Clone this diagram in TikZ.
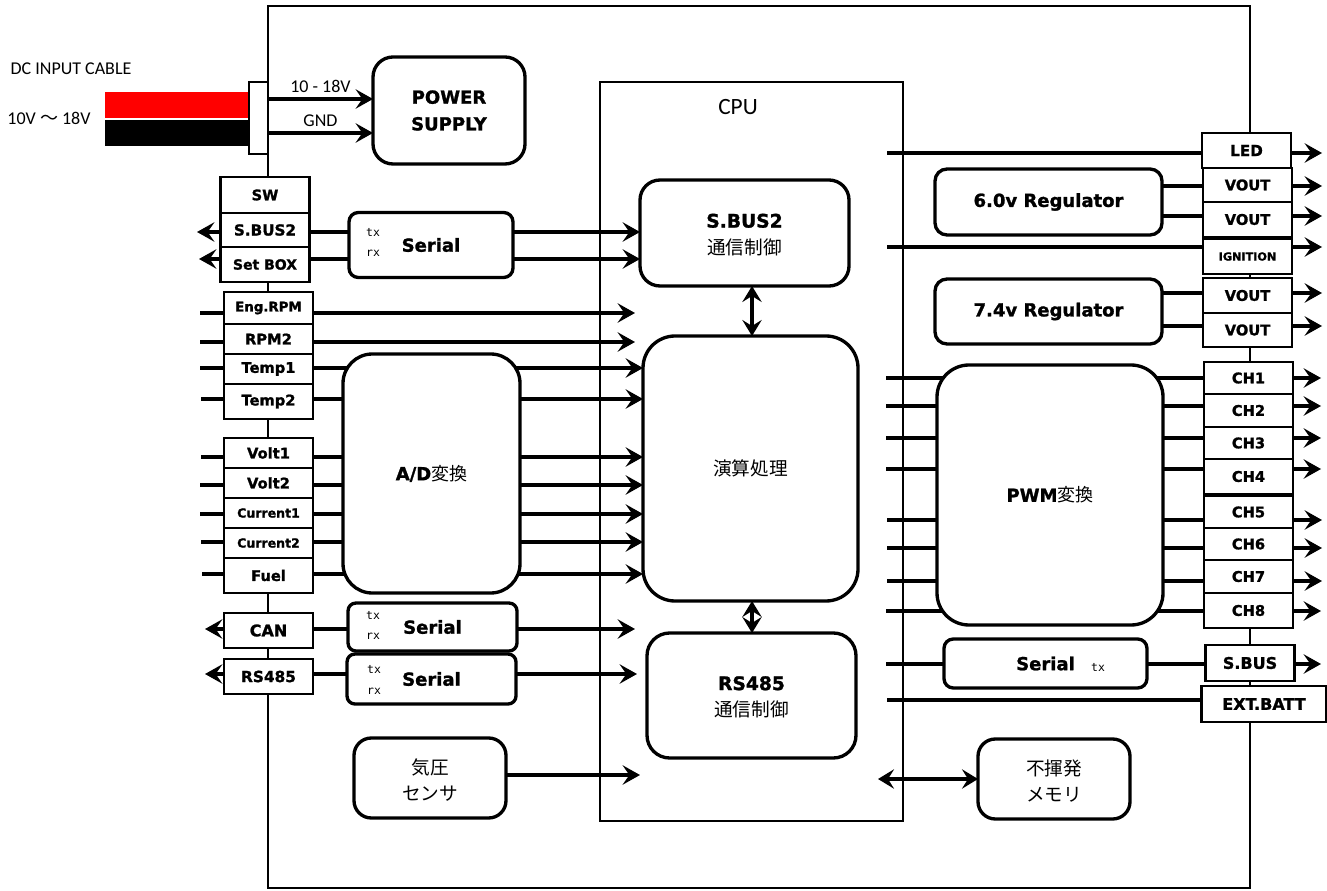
\documentclass[tikz,border=0pt]{standalone}
\usepackage{fontspec}
\setmainfont{Carlito}
\newfontfamily\headfont{DejaVu Sans}[BoldFeatures={FakeBold=1.3}]
\newfontfamily\cjkfont{Noto Sans CJK JP}
\newfontfamily\sigfont{DejaVu Sans Mono}
\usetikzlibrary{arrows.meta,positioning}

\begin{document}
\begin{tikzpicture}[x=0.75pt,y=-0.75pt,font=\fontsize{13.5}{16}\selectfont,
  frame/.style={draw,line width=1.5pt,fill=white,outer sep=0pt,inner sep=0pt},
  portbox/.style={draw,line width=1.7pt,fill=white,outer sep=0pt,inner sep=0pt,
              minimum width=66.75pt,minimum height=#1*0.75pt,portfont=11},
  portfont/.style={font=\headfont\bfseries\fontsize{#1}{12}\selectfont},
  block/.style={draw,line width=2.5pt,fill=white,align=center,outer sep=0pt,inner sep=0pt,
              font=\headfont\bfseries\fontsize{13.5}{20}\selectfont},
  size/.style 2 args={minimum width=#1*0.75pt,minimum height=#2*0.75pt},
  siglabel/.style={font=\sigfont\fontsize{8.6}{9}\selectfont,inner sep=0pt},
  cjk/.style={font=\cjkfont\fontsize{14}{19.5}\selectfont},
  wire/.style={line width=2.5pt},
  arr/.style={wire,-{Stealth[length=13pt,width=14.5pt,inset=5pt]}},
  biarr/.style={wire,{Stealth[length=12pt,width=14.5pt,inset=4.5pt]}-{Stealth[length=12pt,width=14.5pt,inset=4.5pt]}}]
\useasboundingbox (0,0) rectangle (1327,891);
\node[frame,size={982}{881}] (board) at (759,447) {};
\node[frame,size={303}{739}] (cpu) at (751.5,451.5) {};
\node[font=\fontsize{17.5}{20}\selectfont] (cpulabel) at (738,107) {CPU};
\node (cablelabel) at (71,69) {DC INPUT CABLE};
\node (rangelabel) at (49,118) {10V {\cjkfont 〜} 18V};
\node[fill=red,inner sep=0pt,size={144}{26}] (redwire) at (177,105) {};
\node[fill=black,inner sep=0pt,size={144}{26}] (blackwire) at (177,133) {};
\node[frame,size={19}{72}] (plug) at (258.5,118) {};
\node[portbox=36] (sw) at (265,195) {SW};
\node[portbox=34,below=0pt of sw,portfont=11.4] (sbustwo) {S.BUS2};
\node[portbox=35,below=0pt of sbustwo,portfont=10.5] (setbox) {Set BOX};
\node[portbox=32,portfont=10] (engrpm) at (268.5,308) {Eng.RPM};
\node[portbox=30,below=0pt of engrpm] (rpmtwo) {RPM2};
\node[portbox=30,below=0pt of rpmtwo] (tempa) {Temp1};
\node[portbox=35,below=0pt of tempa] (tempb) {Temp2};
\node[portbox=30] (volta) at (268.5,453) {Volt1};
\node[portbox=30,below=0pt of volta] (voltb) {Volt2};
\node[portbox=30,below=0pt of voltb,portfont=9.4] (curra) {Current1};
\node[portbox=30,below=0pt of curra,portfont=9.4] (currb) {Current2};
\node[portbox=35,below=0pt of currb] (fuel) {Fuel};
\node[portbox=35,portfont=12] (can) at (268.5,630.5) {CAN};
\node[portbox=35,portfont=11.5] (rsport) at (268.5,676.5) {RS485};
\node[portbox=35,portfont=11.4] (led) at (1246.5,150.5) {LED};
\node[portbox=34] (vouta) at (1247.5,185) {VOUT};
\node[portbox=35,below=0pt of vouta] (voutb) {VOUT};
\node[portbox=35,portfont=8.4] (ignition) at (1247.5,256.5) {IGNITION};
\node[portbox=35] (voutc) at (1247.5,295.5) {VOUT};
\node[portbox=34,below=0pt of voutc] (voutd) {VOUT};
\node[portbox=32] (cha) at (1248.5,378) {CH1};
\node[portbox=33,below=0pt of cha] (chb) {CH2};
\node[portbox=32,below=0pt of chb] (chc) {CH3};
\node[portbox=35,below=0pt of chc] (chd) {CH4};
\node[portbox=32] (che) at (1248.5,512) {CH5};
\node[portbox=32,below=0pt of che] (chf) {CH6};
\node[portbox=33,below=0pt of chf] (chg) {CH7};
\node[portbox=35,below=0pt of chg] (chh) {CH8};
\node[portbox=36,portfont=12] (sbusport) at (1250,663) {S.BUS};
\node[portbox=36,minimum width=93.75pt,portfont=12] (extbatt) at (1264,704) {EXT.BATT};
\node[block,size={209}{106},rounded corners=15pt,text height=33pt] (sbusctl) at (744.5,233) {{\fontsize{14}{20}\selectfont S.BUS2}\\{\cjkfont\mdseries\fontsize{14}{20}\selectfont 通信制御}};
\node[block,size={215}{265},rounded corners=24pt,cjk] (calc) at (750.5,468.5) {演算処理};
\node[block,size={209}{125},rounded corners=17pt,text height=33pt] (rsctl) at (751.5,695.5) {{\fontsize{14}{20}\selectfont RS485}\\{\cjkfont\mdseries\fontsize{14}{20}\selectfont 通信制御}};
\coordinate (inengrpm) at (200,313); \coordinate (inrpmtwo) at (200,342);
\coordinate (intempa) at (200,368); \coordinate (intempb) at (201,399);
\coordinate (involta) at (201,457); \coordinate (involtb) at (200,485);
\coordinate (incurra) at (200,514); \coordinate (incurrb) at (201,542);
\coordinate (infuel) at (202,574);
\coordinate (endengrpm) at (635,313); \coordinate (endrpmtwo) at (635,342);
\coordinate (outsbustwo) at (197,232); \coordinate (outsetbox) at (199,259);
\coordinate (outcan) at (205,629); \coordinate (outrsport) at (205,674);
\coordinate (endcan) at (635,629); \coordinate (endrs) at (637,674);
\coordinate (endbaro) at (640,775); \coordinate (startmem) at (878,779);
\coordinate (inled) at (887,153); \coordinate (inign) at (887,247);
\coordinate (inext) at (887,700); \coordinate (inserial) at (886,664);
\coordinate (outled) at (1322,153); \coordinate (outvouta) at (1322,186);
\coordinate (outvoutb) at (1322,216); \coordinate (outign) at (1322,247);
\coordinate (outvoutc) at (1322,293); \coordinate (outvoutd) at (1322,326);
\coordinate (incha) at (886,378); \coordinate (inchb) at (886,406);
\coordinate (inchc) at (886,438); \coordinate (inchd) at (886,469);
\coordinate (inche) at (887,520); \coordinate (inchf) at (887,548);
\coordinate (inchg) at (887,581); \coordinate (inchh) at (886,611);
\coordinate (outcha) at (1321,378); \coordinate (outchb) at (1321,406);
\coordinate (outchc) at (1321,438); \coordinate (outchd) at (1321,469);
\coordinate (outche) at (1322,520); \coordinate (outchf) at (1322,548);
\coordinate (outchg) at (1322,581); \coordinate (outchh) at (1321,611);
\coordinate (outsbus) at (1321,664);
\draw[wire] (inengrpm)--(engrpm.west |- inengrpm); \draw[wire] (inrpmtwo)--(rpmtwo.west |- inrpmtwo);
\draw[wire] (intempa)--(tempa.west |- intempa); \draw[wire] (intempb)--(tempb.west |- intempb);
\draw[wire] (involta)--(volta.west |- involta); \draw[wire] (involtb)--(voltb.west |- involtb);
\draw[wire] (incurra)--(curra.west |- incurra); \draw[wire] (incurrb)--(currb.west |- incurrb);
\draw[wire] (infuel)--(fuel.west |- infuel);
\draw[arr] (engrpm.east |- inengrpm)--(endengrpm); \draw[arr] (rpmtwo.east |- inrpmtwo)--(endrpmtwo);
\draw[arr] (tempa.east |- intempa)--(calc.west |- intempa); \draw[arr] (tempb.east |- intempb)--(calc.west |- intempb);
\draw[arr] (volta.east |- involta)--(calc.west |- involta); \draw[arr] (voltb.east |- involtb)--(calc.west |- involtb);
\draw[arr] (curra.east |- incurra)--(calc.west |- incurra); \draw[arr] (currb.east |- incurrb)--(calc.west |- incurrb);
\draw[arr] (fuel.east |- infuel)--(calc.west |- infuel);
\draw[arr] (sbustwo.west |- outsbustwo)--(outsbustwo); \draw[arr] (setbox.west |- outsetbox)--(outsetbox);
\draw[arr] (sbustwo.east |- outsbustwo)--(sbusctl.west |- outsbustwo); \draw[arr] (setbox.east |- outsetbox)--(sbusctl.west |- outsetbox);
\draw[arr] (can.west |- outcan)--(outcan); \draw[arr] (rsport.west |- outrsport)--(outrsport);
\draw[arr] (can.east |- endcan)--(endcan); \draw[arr] (rsport.east |- endrs)--(endrs);
\draw[biarr] (sbusctl.south -| 752,0)--(calc.north -| 752,0);
\draw[biarr] (calc.south -| 752,0)--(rsctl.north -| 752,0);
\draw[wire] (inled)--(led.west |- inled); \draw[arr] (led.east |- outled)--(outled);
\draw[wire] (inign)--(ignition.west |- inign); \draw[arr] (ignition.east |- outign)--(outign);
\draw[wire] (inext)--(extbatt.west |- inext);
\draw[wire] (vouta.west |- outvouta)--(1100,186); \draw[arr] (vouta.east |- outvouta)--(outvouta);
\draw[wire] (voutb.west |- outvoutb)--(1100,216); \draw[arr] (voutb.east |- outvoutb)--(outvoutb);
\draw[wire] (voutc.west |- outvoutc)--(1100,293); \draw[arr] (voutc.east |- outvoutc)--(outvoutc);
\draw[wire] (voutd.west |- outvoutd)--(1100,326); \draw[arr] (voutd.east |- outvoutd)--(outvoutd);
\draw[wire] (incha)--(cha.west |- incha); \draw[arr] (cha.east |- outcha)--(outcha);
\draw[wire] (inchb)--(chb.west |- inchb); \draw[arr] (chb.east |- outchb)--(outchb);
\draw[wire] (inchc)--(chc.west |- inchc); \draw[arr] (chc.east |- outchc)--(outchc);
\draw[wire] (inchd)--(chd.west |- inchd); \draw[arr] (chd.east |- outchd)--(outchd);
\draw[wire] (inche)--(che.west |- inche); \draw[arr] (che.east |- outche)--(outche);
\draw[wire] (inchf)--(chf.west |- inchf); \draw[arr] (chf.east |- outchf)--(outchf);
\draw[wire] (inchg)--(chg.west |- inchg); \draw[arr] (chg.east |- outchg)--(outchg);
\draw[wire] (inchh)--(chh.west |- inchh); \draw[arr] (chh.east |- outchh)--(outchh);
\draw[wire] (inserial)--(sbusport.west |- inserial); \draw[arr] (sbusport.east |- outsbus)--(outsbus);
\node[block,size={152}{107},rounded corners=15pt] (supply) at (449,110.5) {POWER\\SUPPLY};
\node[block,size={164}{65},rounded corners=7pt] (serialsbus) at (431,245) {Serial};
\node[block,size={177}{239},rounded corners=22pt] (adconv) at (431.5,473.5) {A/D{\cjkfont\mdseries 変換}};
\node[block,size={169}{48},rounded corners=6pt] (serialcan) at (432.5,627) {Serial};
\node[block,size={169}{50},rounded corners=6pt] (serialrs) at (431.5,679) {Serial};
\node[block,size={152}{80},rounded corners=13pt,cjk,text height=35pt] (baro) at (430,778) {気圧\\センサ};
\node[block,size={152}{80},rounded corners=13pt,cjk,text height=35pt] (memory) at (1054,779) {不揮発\\メモリ};
\node[block,size={227}{66},rounded corners=9pt] (regsix) at (1048.5,202) {6.0v Regulator};
\node[block,size={227}{65},rounded corners=9pt] (regseven) at (1048.5,311.5) {7.4v Regulator};
\node[block,size={226}{260},rounded corners=24pt] (pwmconv) at (1050,495) {PWM{\cjkfont\mdseries 変換}};
\node[block,size={203}{49},rounded corners=7pt] (serialpwm) at (1045.5,663.5) {Serial};
\draw[arr] (plug.east |- 0,99)--(supply.west |- 0,99) node[midway,above=0pt] (volts) {10 - 18V};
\draw[arr] (plug.east |- 0,133)--(supply.west |- 0,133) node[midway,above=0pt] (gnd) {GND};
\draw[arr] (baro.east |- endbaro)--(endbaro);
\draw[biarr] (startmem)--(memory.west |- startmem);
\node[siglabel] (txa) at (373,232) {tx}; \node[siglabel] (rxa) at (373,253) {rx};
\node[siglabel] (txb) at (373,615) {tx}; \node[siglabel] (rxb) at (373,636) {rx};
\node[siglabel] (txc) at (374,669) {tx}; \node[siglabel] (rxc) at (374,691) {rx};
\node[siglabel] (txd) at (1098,667) {tx};
\end{tikzpicture}
\end{document}
